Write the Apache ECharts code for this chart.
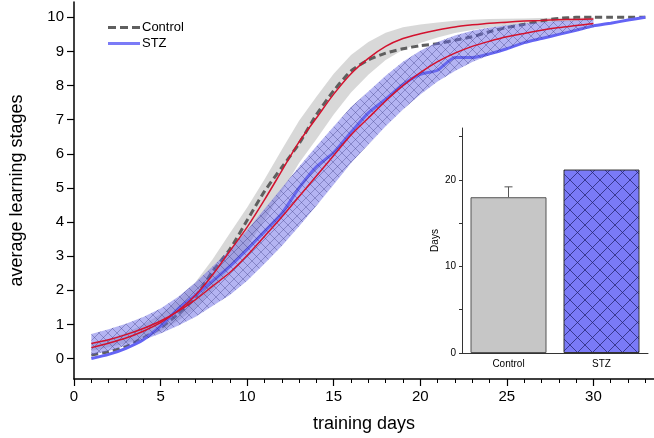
<!DOCTYPE html>
<html>
<head>
<meta charset="utf-8">
<script src="https://cdn.jsdelivr.net/npm/echarts@6/dist/echarts.min.js"></script>
<style>
html, body { margin: 0; padding: 0; background: #fff; }
#main { width: 654px; height: 438px; }
</style>
</head>
<body>
<div id="main"></div>
<script>
// raw data, days 1..33
var days = [1,2,3,4,5,6,7,8,9,10,11,12,13,14,15,16,17,18,19,20,21,22,23,24,25,26,27,28,29,30,31,32,33];
var control = [0.1,0.2,0.35,0.6,0.9,1.3,1.8,2.55,3.2,4.05,4.9,5.6,6.3,7.15,7.85,8.43,8.75,8.95,9.08,9.17,9.23,9.33,9.43,9.58,9.7,9.8,9.9,9.97,10,10,10,10,10];
var stz = [0.0,0.12,0.3,0.55,0.95,1.45,1.85,2.27,2.7,3.2,3.72,4.25,5.0,5.62,6.04,6.63,7.2,7.6,8.03,8.33,8.45,8.82,8.82,8.93,9.08,9.26,9.38,9.5,9.62,9.75,9.83,9.92,10.0];

// fitted curves + confidence bands, days 1..30
var fitDays = [1,2,3,4,5,6,7,8,9,10,11,12,13,14,15,16,17,18,19,20,21,22,23,24,25,26,27,28,29,30];
var ctrlFit = [0.32,0.45,0.6,0.8,1.05,1.4,1.85,2.45,3.15,3.85,4.65,5.5,6.35,7.05,7.75,8.35,8.8,9.15,9.38,9.52,9.63,9.72,9.78,9.83,9.86,9.89,9.91,9.93,9.94,9.95];
var ctrlLo = [0.22,0.33,0.45,0.6,0.8,1.1,1.47,2.0,2.63,3.27,4.05,4.88,5.73,6.43,7.15,7.8,8.32,8.75,9.05,9.25,9.41,9.54,9.63,9.71,9.76,9.81,9.84,9.87,9.89,9.9];
var ctrlHi = [0.42,0.57,0.75,1.0,1.3,1.7,2.23,2.9,3.67,4.43,5.25,6.12,6.97,7.67,8.35,8.9,9.28,9.55,9.71,9.79,9.85,9.9,9.93,9.95,9.96,9.97,9.98,9.99,9.99,10.0];
var stzFit = [0.44,0.55,0.7,0.88,1.1,1.38,1.72,2.12,2.52,3.02,3.58,4.15,4.75,5.35,5.95,6.55,7.05,7.55,8.0,8.38,8.7,8.95,9.15,9.3,9.43,9.53,9.62,9.7,9.76,9.82];
var stzLo = [0.1,0.22,0.38,0.54,0.73,0.96,1.22,1.54,1.86,2.28,2.78,3.3,3.88,4.48,5.1,5.73,6.27,6.81,7.3,7.74,8.12,8.43,8.69,8.9,9.09,9.24,9.38,9.51,9.61,9.7];
var stzHi = [0.72,0.86,1.02,1.22,1.47,1.8,2.22,2.7,3.18,3.76,4.38,5.0,5.62,6.22,6.8,7.37,7.83,8.29,8.7,9.02,9.28,9.47,9.61,9.7,9.77,9.82,9.86,9.89,9.91,9.94];

// inset
var groups = ['Control', 'STZ'];
var daysMean = [18, 21.2];
var daysErr = [19.2, null];

var yTicks = [0,1,2,3,4,5,6,7,8,9,10];
var xTicks = [0,5,10,15,20,25,30];
var insetTicks = [0,5,10,15,20,25];
var insetLabels = [0,10,20];

var FONT = 'Liberation Sans';

function pairs(xs, ys) {
	var out = [];
	for(var i = 0; i < ys.length; i++) out.push([xs[i], ys[i]]);
	return out;
}

// crosshatch tile
function hatch(bg, line, step, lw) {
	var c = document.createElement('canvas');
	c.width = step;
	c.height = step;
	var ctx = c.getContext('2d');
	ctx.fillStyle = bg;
	ctx.fillRect(0, 0, step, step);
	ctx.strokeStyle = line;
	ctx.lineWidth = lw;
	ctx.beginPath();
	ctx.moveTo(0, 0); ctx.lineTo(step, step);
	ctx.moveTo(0, step); ctx.lineTo(step, 0);
	ctx.stroke();
	return { image: c, repeat: 'repeat' };
}

var bandPattern = hatch('rgba(105,105,230,0.5)', 'rgba(50,50,120,0.35)', 9, 1);
var barPattern = hatch('#7a7af7', 'rgba(35,35,110,0.75)', 15, 1);

function band(lo, hi, fill) {
	return function(params, api) {
		var pts = [];
		for(var i = 0; i < hi.length; i++) pts.push(api.coord([fitDays[i], hi[i]]));
		for(var j = lo.length - 1; j >= 0; j--) pts.push(api.coord([fitDays[j], lo[j]]));
		return { type: 'polygon', shape: { points: pts }, style: { fill: fill } };
	};
}

var myChart = echarts.init(document.getElementById('main'));
var option = {
	animation: false,
	backgroundColor: '#fff',
	textStyle: { fontFamily: FONT },
	legend: {
		data: [
			{ name: 'Control', icon: 'path://M0,0h8v3h-8z M12,0h8v3h-8z M24,0h8v3h-8z' },
			{ name: 'STZ', icon: 'rect' }
		],
		orient: 'vertical',
		left: 108,
		top: 21,
		itemWidth: 32,
		itemHeight: 3,
		itemGap: 3,
		padding: 0,
		textStyle: { fontSize: 13, color: '#000', fontFamily: FONT, padding: [0, 0, 0, -3], lineHeight: 13 }
	},
	grid: [
		{ left: 73, right: 0, top: 2, bottom: 58 },
		{ left: 462, top: 128, width: 186, height: 225 }
	],
	xAxis: [{
		type: 'value',
		gridIndex: 0,
		min: 0,
		max: 33.5,
		interval: 5,
		splitLine: { show: false },
		axisLine: { onZero: false, lineStyle: { color: '#000', width: 1.5 } },
		axisTick: { length: 7, lineStyle: { color: '#000', width: 1.2 }, customValues: xTicks },
		minorTick: { show: true, splitNumber: 5, length: 4, lineStyle: { color: '#000', width: 1 } },
		axisLabel: { fontSize: 15, color: '#000', margin: 10, fontFamily: FONT, customValues: xTicks },
		name: 'training days',
		nameLocation: 'middle',
		nameGap: 36,
		nameTextStyle: { fontSize: 18, color: '#000', fontFamily: FONT }
	}, {
		type: 'category',
		gridIndex: 1,
		data: groups,
		axisLine: { lineStyle: { color: '#333', width: 1 } },
		axisTick: { show: false },
		axisLabel: { fontSize: 10, color: '#000', margin: 6, fontFamily: FONT }
	}],
	yAxis: [{
		type: 'value',
		gridIndex: 0,
		min: -0.6,
		max: 10.45,
		splitLine: { show: false },
		axisLine: { show: true, onZero: false, lineStyle: { color: '#000', width: 1.5 } },
		axisTick: { show: true, length: 7, lineStyle: { color: '#000', width: 1.2 }, customValues: yTicks },
		axisLabel: { fontSize: 15, color: '#000', margin: 10, fontFamily: FONT, customValues: yTicks },
		name: 'average learning stages',
		nameLocation: 'middle',
		nameGap: 48,
		nameTextStyle: { fontSize: 18, color: '#000', fontFamily: FONT }
	}, {
		type: 'value',
		gridIndex: 1,
		min: 0,
		max: 26,
		splitLine: { show: false },
		axisLine: { show: true, lineStyle: { color: '#333', width: 1 } },
		axisTick: { show: true, length: 3, lineStyle: { color: '#333' }, customValues: insetTicks },
		axisLabel: { fontSize: 10, color: '#000', margin: 6, fontFamily: FONT, customValues: insetLabels },
		name: 'Days',
		nameLocation: 'middle',
		nameGap: 22,
		nameTextStyle: { fontSize: 10, color: '#000', fontFamily: FONT }
	}],
	series: [{
		type: 'custom',
		name: 'ctrlBand',
		xAxisIndex: 0, yAxisIndex: 0,
		z: 1,
		silent: true,
		renderItem: band(ctrlLo, ctrlHi, 'rgba(190,190,190,0.6)'),
		data: [[0, 0]]
	}, {
		type: 'line',
		name: 'Control',
		xAxisIndex: 0, yAxisIndex: 0,
		z: 2,
		symbol: 'none',
		smooth: 0.2,
		lineStyle: { color: '#5f5f5f', width: 3, type: [7, 4] },
		itemStyle: { color: '#5f5f5f' },
		data: pairs(days, control)
	}, {
		type: 'line',
		name: 'STZ',
		xAxisIndex: 0, yAxisIndex: 0,
		z: 2,
		symbol: 'none',
		smooth: 0.2,
		lineStyle: { color: '#6464f5', width: 3 },
		itemStyle: { color: '#7b7bf7' },
		data: pairs(days, stz)
	}, {
		type: 'custom',
		name: 'stzBand',
		xAxisIndex: 0, yAxisIndex: 0,
		z: 3,
		silent: true,
		renderItem: band(stzLo, stzHi, bandPattern),
		data: [[0, 0]]
	}, {
		type: 'line',
		name: 'ctrlFit',
		xAxisIndex: 0, yAxisIndex: 0,
		z: 4,
		symbol: 'none',
		smooth: 0.3,
		lineStyle: { color: '#d3122e', width: 1.5 },
		data: pairs(fitDays, ctrlFit)
	}, {
		type: 'line',
		name: 'stzFit',
		xAxisIndex: 0, yAxisIndex: 0,
		z: 4,
		symbol: 'none',
		smooth: 0.3,
		lineStyle: { color: '#d3122e', width: 1.5 },
		data: pairs(fitDays, stzFit)
	}, {
		type: 'bar',
		name: 'inset',
		xAxisIndex: 1, yAxisIndex: 1,
		barWidth: 76,
		data: [
			{ value: daysMean[0], itemStyle: { color: '#c6c6c6', borderColor: '#555', borderWidth: 1 } },
			{ value: daysMean[1], itemStyle: { color: barPattern, borderColor: '#333', borderWidth: 1 } }
		]
	}, {
		type: 'custom',
		name: 'err',
		xAxisIndex: 1, yAxisIndex: 1,
		z: 5,
		renderItem: function(params, api) {
			if(api.value(2) == null || isNaN(api.value(2))) return;
			var p0 = api.coord([api.value(0), api.value(1)]);
			var p1 = api.coord([api.value(0), api.value(2)]);
			var st = { stroke: '#555', lineWidth: 1 };
			return {
				type: 'group',
				children: [
					{ type: 'line', shape: { x1: p0[0], y1: p0[1], x2: p1[0], y2: p1[1] }, style: st },
					{ type: 'line', shape: { x1: p1[0] - 4, y1: p1[1], x2: p1[0] + 4, y2: p1[1] }, style: st }
				]
			};
		},
		data: [[0, daysMean[0], daysErr[0]]]
	}]
};
myChart.setOption(option);
</script>
</body>
</html>
